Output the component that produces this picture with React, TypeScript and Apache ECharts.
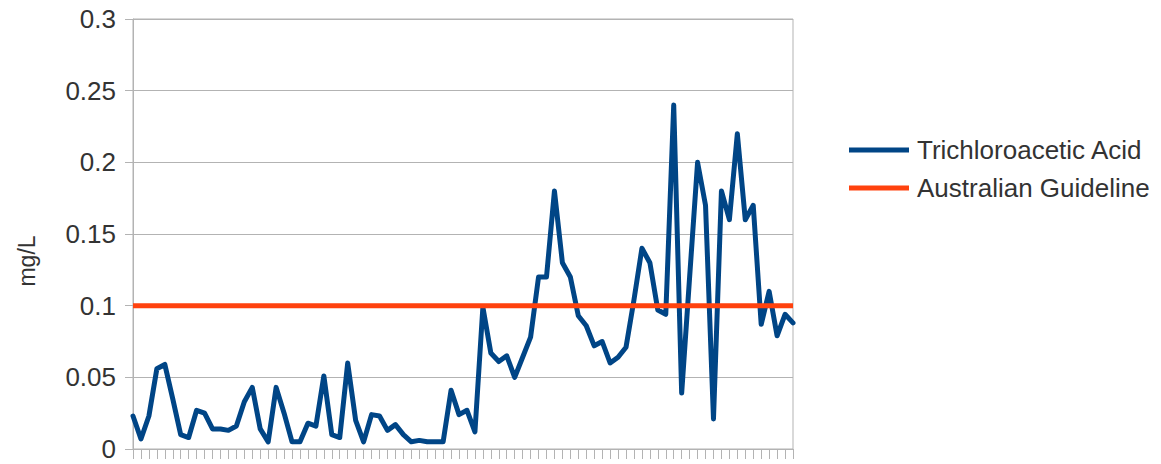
import React, { useEffect, useRef } from "react";
import * as echarts from "echarts";

const categories: string[] = Array.from({ length: 84 }, (_, i) => String(i + 1));

const trichloroaceticAcid: number[] = [
  0.023, 0.007, 0.023, 0.056, 0.059, 0.035, 0.010, 0.008, 0.027, 0.025,
  0.014, 0.014, 0.013, 0.016, 0.033, 0.043, 0.014, 0.005, 0.043, 0.025,
  0.005, 0.005, 0.018, 0.016, 0.051, 0.010, 0.008, 0.060, 0.020, 0.005,
  0.024, 0.023, 0.013, 0.017, 0.010, 0.005, 0.006, 0.005, 0.005, 0.005,
  0.041, 0.024, 0.027, 0.012, 0.099, 0.067, 0.061, 0.065, 0.050, 0.064,
  0.078, 0.120, 0.120, 0.180, 0.130, 0.120, 0.093, 0.086, 0.072, 0.075,
  0.060, 0.064, 0.071, 0.104, 0.140, 0.130, 0.097, 0.094, 0.240, 0.039,
  0.120, 0.200, 0.170, 0.021, 0.180, 0.160, 0.220, 0.160, 0.170, 0.087,
  0.110, 0.079, 0.094, 0.088,
];

const GUIDELINE_VALUE = 0.1;
const australianGuideline: number[] = categories.map(() => GUIDELINE_VALUE);

const seriesNames = ["Trichloroacetic Acid", "Australian Guideline"];
const yTicks = { min: 0, max: 0.3, interval: 0.05 };

export default function App() {
  const ref = useRef<HTMLDivElement>(null);

  useEffect(() => {
    if (!ref.current) return;
    const chart = echarts.init(ref.current, null, { renderer: "svg" });
    const grey = "#b3b3b3";
    const textColor = "#333333";
    const font = "Liberation Sans, Arial, sans-serif";
    chart.setOption({
      animation: false,
      textStyle: { fontFamily: font },
      grid: {
        left: 133,
        right: 368,
        top: 19,
        bottom: 15,
        show: true,
        borderColor: grey,
        borderWidth: 1,
        containLabel: false,
      },
      legend: {
        orient: "vertical",
        left: 844,
        top: 132,
        itemWidth: 60,
        itemHeight: 5,
        itemGap: 12,
        icon: "rect",
        textStyle: {
          fontSize: 26,
          color: textColor,
          fontFamily: font,
          lineHeight: 26,
          padding: [0, 0, 0, 3],
        },
        data: seriesNames,
      },
      xAxis: {
        type: "category",
        data: categories,
        boundaryGap: false,
        axisLine: { show: true, lineStyle: { color: grey, width: 1 } },
        axisTick: {
          show: true,
          interval: 0,
          length: 10,
          inside: false,
          lineStyle: { color: grey, width: 1 },
        },
        axisLabel: { show: false },
        splitLine: { show: false },
      },
      yAxis: {
        type: "value",
        min: yTicks.min,
        max: yTicks.max,
        interval: yTicks.interval,
        axisLine: { show: true, lineStyle: { color: grey, width: 1 } },
        axisTick: { show: true, length: 8, lineStyle: { color: grey, width: 1 } },
        axisLabel: {
          fontSize: 26,
          color: textColor,
          fontFamily: font,
          margin: 17,
          formatter: (v: number) => String(Math.round(v * 100) / 100),
        },
        splitLine: { show: true, lineStyle: { color: grey, width: 1 } },
      },
      graphic: [
        {
          type: "text",
          x: 27,
          y: 261,
          rotation: Math.PI / 2,
          style: {
            text: "mg/L",
            fill: textColor,
            fontSize: 23,
            fontFamily: font,
            textAlign: "center",
            textVerticalAlign: "middle",
          },
        },
      ],
      series: [
        {
          name: seriesNames[0],
          type: "line",
          data: trichloroaceticAcid,
          showSymbol: false,
          symbol: "none",
          smooth: false,
          color: "#004586",
          lineStyle: { color: "#004586", width: 5, join: "round", cap: "round" },
          z: 2,
        },
        {
          name: seriesNames[1],
          type: "line",
          data: australianGuideline,
          showSymbol: false,
          symbol: "none",
          color: "#ff420e",
          lineStyle: { color: "#ff420e", width: 5 },
          z: 3,
        },
      ],
    });
    return () => chart.dispose();
  }, []);

  return (
    <div
      ref={ref}
      style={{ position: "fixed", left: 0, top: 0, width: 1161, height: 464, background: "#ffffff" }}
    />
  );
}
